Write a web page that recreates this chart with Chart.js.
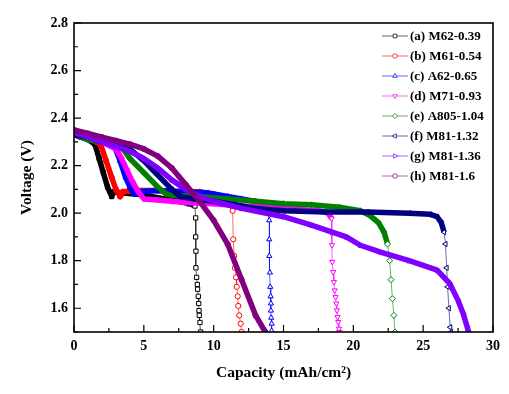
<!DOCTYPE html>
<html>
<head>
<meta charset="utf-8">
<script src="https://cdn.jsdelivr.net/npm/chart.js@4.4.0/dist/chart.umd.min.js"></script>
<style>
  html, body { margin: 0; padding: 0; background: #fff; }
</style>
</head>
<body>
<canvas id="myChart" width="509" height="394"></canvas>
<script>
"use strict";

// discharge curves, capacity (mAh/cm2) vs voltage (V)
const seriesLabels = ['(a) M62-0.39', '(b) M61-0.54', '(c) A62-0.65', '(d) M71-0.93',
                      '(e) A805-1.04', '(f) M81-1.32', '(g) M81-1.36', '(h) M81-1.6'];

const capA  = [0, 0.5, 1.0, 1.5, 1.8, 2.1, 2.4, 2.7, 2.85, 3.5, 4.5, 5.5, 6.5, 7.5, 8.2, 8.55, 8.66, 8.71, 8.71, 8.73, 8.73, 8.78, 8.83, 8.85, 8.90, 8.93, 8.95, 8.97, 9.02, 9.07];
const voltA = [2.33, 2.32, 2.31, 2.29, 2.23, 2.17, 2.11, 2.07, 2.09, 2.085, 2.08, 2.07, 2.06, 2.05, 2.04, 2.035, 2.03, 1.98, 1.90, 1.84, 1.77, 1.73, 1.70, 1.68, 1.65, 1.62, 1.59, 1.57, 1.54, 1.50];

const capB  = [0, 0.6, 1.2, 1.9, 2.3, 2.7, 3.0, 3.3, 3.5, 4.5, 6.0, 7.5, 9.0, 10.0, 10.7, 11.1, 11.3, 11.36, 11.40, 11.47, 11.52, 11.60, 11.65, 11.72, 11.76, 11.83, 11.93, 12.0];
const voltB = [2.33, 2.32, 2.31, 2.29, 2.22, 2.15, 2.10, 2.07, 2.09, 2.095, 2.095, 2.09, 2.09, 2.08, 2.07, 2.05, 2.03, 2.01, 1.89, 1.82, 1.77, 1.73, 1.69, 1.65, 1.61, 1.57, 1.535, 1.50];

const capC  = [0, 1.0, 2.0, 2.9, 3.3, 3.7, 4.0, 4.3, 4.6, 6.0, 8.0, 9.6, 11.0, 12.0, 13.2, 13.6, 13.85, 13.98, 13.98, 13.98, 14.03, 14.05, 14.08, 14.10, 14.10, 14.12, 14.15, 14.15];
const voltC = [2.33, 2.31, 2.30, 2.28, 2.22, 2.15, 2.11, 2.08, 2.09, 2.095, 2.09, 2.085, 2.07, 2.06, 2.047, 2.035, 2.01, 1.97, 1.89, 1.82, 1.75, 1.69, 1.65, 1.62, 1.59, 1.56, 1.535, 1.505];

const capD  = [0, 1.0, 2.0, 3.0, 3.4, 3.8, 4.2, 4.6, 5.0, 6.0, 7.0, 8.0, 10.0, 12.0, 14.0, 16.0, 17.5, 18.2, 18.45, 18.45, 18.47, 18.49, 18.56, 18.61, 18.66, 18.73, 18.78, 18.82, 18.87, 18.92, 18.97, 19.0];
const voltD = [2.34, 2.32, 2.30, 2.27, 2.23, 2.18, 2.13, 2.09, 2.06, 2.055, 2.05, 2.045, 2.04, 2.03, 2.025, 2.015, 2.01, 2.0, 1.977, 1.914, 1.865, 1.795, 1.752, 1.71, 1.675, 1.647, 1.62, 1.591, 1.563, 1.542, 1.514, 1.50];

const capE  = [0, 1.0, 2.0, 3.0, 3.5, 4.0, 4.5, 5.0, 5.5, 6.0, 6.6, 7.0, 9.0, 11.0, 13.0, 15.0, 17.0, 19.0, 20.5, 21.2, 21.8, 22.2, 22.45, 22.6, 22.7, 22.8, 22.9, 22.98];
const voltE = [2.33, 2.31, 2.30, 2.29, 2.27, 2.23, 2.20, 2.17, 2.14, 2.11, 2.08, 2.075, 2.07, 2.06, 2.05, 2.04, 2.035, 2.025, 2.01, 1.99, 1.96, 1.92, 1.87, 1.80, 1.72, 1.64, 1.57, 1.50];

const capF  = [0, 1.0, 2.0, 3.0, 4.0, 5.0, 6.0, 7.0, 7.6, 8.5, 10.0, 11.5, 13.0, 15.0, 18.0, 21.0, 24.0, 25.5, 26.0, 26.3, 26.5, 26.6, 26.68, 26.75, 26.84, 26.94, 27.0];
const voltF = [2.33, 2.32, 2.30, 2.29, 2.27, 2.22, 2.16, 2.10, 2.07, 2.06, 2.05, 2.035, 2.02, 2.01, 2.005, 2.005, 2.0, 1.995, 1.985, 1.96, 1.92, 1.87, 1.77, 1.69, 1.60, 1.52, 1.50];

const capG  = [0, 1, 2, 3, 4, 5, 6, 7, 8, 9, 10, 12, 15, 17, 19.5, 20.5, 22, 24, 26, 26.9, 27.5, 27.87, 28.15, 28.25];
const voltG = [2.34, 2.32, 2.30, 2.28, 2.26, 2.23, 2.19, 2.14, 2.10, 2.07, 2.05, 2.02, 1.985, 1.95, 1.90, 1.865, 1.835, 1.80, 1.76, 1.704, 1.633, 1.577, 1.521, 1.50];

const capH  = [0, 1, 2, 3, 4, 5, 6, 7, 8, 9, 10, 11, 12, 13, 13.7];
const voltH = [2.35, 2.335, 2.32, 2.305, 2.29, 2.27, 2.24, 2.19, 2.12, 2.05, 1.97, 1.87, 1.72, 1.57, 1.50];

const xTicks = [0, 5, 10, 15, 20, 25, 30];
const yTicks = [1.6, 1.8, 2.0, 2.2, 2.4, 2.6, 2.8];

const series = [[capA, voltA], [capB, voltB], [capC, voltC], [capD, voltD],
                [capE, voltE], [capF, voltF], [capG, voltG], [capH, voltH]];

const colors   = ['#000000', '#ff0000', '#0000ff', '#ff00ff', '#008000', '#000080', '#8000ff', '#800080'];
const styles   = ['rect', 'circle', 'triangle', 'triangle', 'rectRot', 'triangle', 'triangle', 'circle'];
const rotations = [0, 0, 0, 180, 0, 270, 90, 0];
const serif = '"Liberation Serif", "Times New Roman", serif';
const band = 5.5;

// dense parts of the curves look like thick bands, fast drops are thin lines with markers
function steep(p0, p1) {
  const dx = Math.abs(p1.x - p0.x);
  const dy = Math.abs(p1.y - p0.y);
  return dy > 4 * Math.max(dx, 0.01);
}
function pointIsSteep(ctx) {
  const chart = ctx.chart, sx = chart.scales.x, sy = chart.scales.y;
  if (!sx || !sy) return false;
  const d = chart.data.datasets[ctx.datasetIndex].data;
  const i = ctx.dataIndex;
  const px = k => ({ x: sx.getPixelForValue(d[k].x), y: sy.getPixelForValue(d[k].y) });
  if (i > 0 && steep(px(i - 1), px(i))) return true;
  if (i < d.length - 1 && steep(px(i), px(i + 1))) return true;
  return false;
}

const datasets = series.map((s, i) => ({
  label: seriesLabels[i],
  data: s[0].map((x, k) => ({ x: x, y: s[1][k] })),
  borderColor: colors[i],
  borderWidth: band,
  borderJoinStyle: 'round',
  pointStyle: styles[i],
  rotation: rotations[i],
  pointRadius: styles[i] === 'circle' ? 2.6 : 3,
  pointBorderWidth: 1,
  pointBorderColor: colors[i],
  pointBackgroundColor: ctx => pointIsSteep(ctx) ? '#ffffff' : colors[i],
  order: 8 - i,
  segment: {
    borderWidth: c => steep(c.p0, c.p1) ? 1 : band,
    borderColor: c => steep(c.p0, c.p1) ? colors[i] + '99' : colors[i]
  }
}));

// axes box with inward ticks
const frame = {
  id: 'frame',
  afterDatasetsDraw(chart) {
    const { ctx, chartArea: a, scales } = chart;
    ctx.save();
    ctx.strokeStyle = '#000';
    ctx.lineWidth = 1.6;
    ctx.strokeRect(a.left, a.top, a.right - a.left, a.bottom - a.top);
    ctx.lineWidth = 1.2;
    ctx.beginPath();
    for (let v = 0; v <= 30; v += 2.5) {
      const x = scales.x.getPixelForValue(v);
      const len = v % 5 === 0 ? 7 : 4;
      ctx.moveTo(x, a.bottom);
      ctx.lineTo(x, a.bottom - len);
    }
    for (let k = 15; k <= 28; k++) {
      const y = scales.y.getPixelForValue(k / 10);
      const len = k % 2 === 0 ? 7 : 4;
      ctx.moveTo(a.left, y);
      ctx.lineTo(a.left + len, y);
    }
    ctx.stroke();
    ctx.restore();
  }
};

// legend inside the plot, top right
const insideLegend = {
  id: 'insideLegend',
  afterDraw(chart) {
    const ctx = chart.ctx;
    ctx.save();
    ctx.font = 'bold 13px ' + serif;
    ctx.textBaseline = 'middle';
    ctx.fillStyle = '#000';
    chart.data.datasets.forEach((ds, i) => {
      const y = 36 + i * 20;
      ctx.strokeStyle = colors[i] + '99';
      ctx.lineWidth = 1;
      ctx.beginPath();
      ctx.moveTo(382, y);
      ctx.lineTo(408, y);
      ctx.stroke();
      ctx.strokeStyle = colors[i] + 'bb';
      ctx.fillStyle = '#fff';
      Chart.helpers.drawPoint(ctx, {
        pointStyle: styles[i], rotation: rotations[i],
        radius: styles[i] === 'circle' ? 2.3 : 2.6, borderWidth: 1
      }, 395, y);
      ctx.fillStyle = '#000';
      ctx.fillText(ds.label, 410, y + 1);
    });
    ctx.restore();
  }
};

const ctx = document.getElementById('myChart');
const myChart = new Chart(ctx, {
  type: 'line',
  data: { datasets: datasets },
  options: {
    responsive: false,
    animation: false,
    layout: { padding: { left: 12, right: 16, top: 23, bottom: 0 } },
    plugins: {
      legend: { display: false },
      tooltip: { enabled: false }
    },
    scales: {
      x: {
        type: 'linear', min: 0, max: 30,
        grid: { display: false, drawTicks: false },
        border: { display: false },
        afterBuildTicks: s => { s.ticks = xTicks.map(v => ({ value: v })); },
        afterFit: s => { s.height = 62; },
        ticks: {
          padding: 6, color: '#000', maxRotation: 0,
          font: { family: serif, size: 14, weight: 'bold' },
          callback: v => String(v)
        },
        title: {
          display: true, text: 'Capacity (mAh/cm²)', color: '#000',
          font: { family: serif, size: 15.5, weight: 'bold' },
          padding: { top: 4, bottom: 12 }
        }
      },
      y: {
        type: 'linear', min: 1.5, max: 2.8,
        grid: { display: false, drawTicks: false },
        border: { display: false },
        afterBuildTicks: s => { s.ticks = yTicks.map(v => ({ value: v })); },
        afterFit: s => { s.width = 62; },
        ticks: {
          padding: 6, color: '#000',
          font: { family: serif, size: 14, weight: 'bold' },
          callback: v => v.toFixed(1)
        },
        title: {
          display: true, text: 'Voltage (V)', color: '#000',
          font: { family: serif, size: 15.5, weight: 'bold' },
          padding: { top: 6, bottom: 0 }
        }
      }
    }
  },
  plugins: [frame, insideLegend]
});
</script>
</body>
</html>
